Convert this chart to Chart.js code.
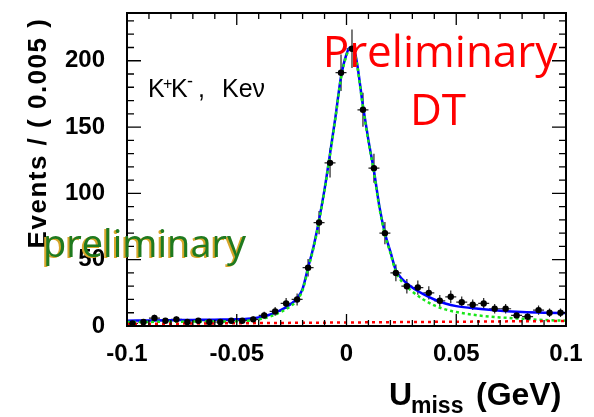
<!DOCTYPE html>
<html lang="en">
<head>
<meta charset="UTF-8">
<title>Umiss K+K- Kenu</title>
<script src="https://cdn.jsdelivr.net/npm/chart.js"></script>
<style>
    html, body { margin: 0; padding: 0; background: #fff; }
    #umissChart { display: block; }
</style>
</head>
<body>
<canvas id="umissChart" width="594" height="417"></canvas>
<script>
    // bin centres in GeV (bin width 0.005)
    const binCenters = [-0.0975, -0.0925, -0.0875, -0.0825, -0.0775, -0.0725, -0.0675, -0.0625, -0.0575, -0.0525,
                        -0.0475, -0.0425, -0.0375, -0.0325, -0.0275, -0.0225, -0.0175, -0.0125, -0.0075, -0.0025,
                         0.0025,  0.0075,  0.0125,  0.0175,  0.0225,  0.0275,  0.0325,  0.0375,  0.0425,  0.0475,
                         0.0525,  0.0575,  0.0625,  0.0675,  0.0725,  0.0775,  0.0825,  0.0875,  0.0925,  0.0975];
    const events = [2, 3, 6, 4, 5, 3, 4, 3, 3, 4,
                    4, 5, 8, 11, 17, 20, 44, 78, 123, 191,
                    209, 163, 119, 70, 40, 30, 29, 25, 19, 22,
                    18, 16, 17, 13, 13, 8, 7, 12, 10, 10];
    const eventErrors = [1.4, 1.7, 2.4, 2, 2.2, 1.7, 2, 1.7, 1.7, 2,
                         2, 2.2, 2.8, 3.3, 4.1, 4.5, 6.6, 8.8, 11.1, 13.8,
                         14.5, 12.8, 10.9, 8.4, 6.3, 5.5, 5.4, 5, 4.4, 4.7,
                         4.2, 4, 4.1, 3.6, 3.6, 2.8, 2.6, 3.5, 3.2, 3.2];

    // fit curves
    const fitX = [-0.1, -0.09, -0.08, -0.07, -0.06, -0.05, -0.045, -0.04, -0.035, -0.03,
                  -0.025, -0.0225, -0.02, -0.0175, -0.015, -0.0125, -0.01, -0.0075, -0.005, -0.0025,
                  0, 0.0016, 0.004, 0.0075, 0.01, 0.0125, 0.015, 0.0175, 0.02, 0.0225,
                  0.025, 0.03, 0.035, 0.04, 0.045, 0.05, 0.06, 0.07, 0.08, 0.09, 0.1];
    const fitTotal = [4, 4.2, 4.4, 4.6, 4.8, 5, 5.5, 6.5, 8.5, 12,
                      17, 21, 28, 44, 60, 80, 103, 130, 158, 188,
                      205, 210, 205, 166, 140, 117, 90, 70, 56, 42,
                      36, 29, 24, 20, 17, 15, 13, 11.5, 10.5, 10, 9.8];
    const fitSignal = [3, 3.1, 3.2, 3.3, 3.4, 3.6, 4, 5, 7, 10.5,
                       15.5, 19.5, 27, 43, 59, 79, 102, 129, 157, 187,
                       204, 209, 204, 165, 139, 116, 89, 69, 55, 41,
                       34, 26, 20, 15.5, 12.5, 10.5, 8, 6.5, 5.5, 4.5, 4];
    const bkgX = [-0.1, 0.1];
    const fitBkg = [1.5, 3.8];

    const xTicks = [-0.1, -0.05, 0, 0.05, 0.1];
    const yTicks = [0, 50, 100, 150, 200];

    const toPoints = (xs, ys) => xs.map((x, i) => ({ x: x, y: ys[i] }));

    // error bars under the curves
    const errorBars = {
        id: 'errorBars',
        beforeDatasetsDraw(chart) {
            const ctx = chart.ctx, xs = chart.scales.x, ys = chart.scales.y;
            ctx.save();
            ctx.strokeStyle = '#222';
            ctx.lineWidth = 1.2;
            binCenters.forEach((x, i) => {
                const px = xs.getPixelForValue(x);
                const py = ys.getPixelForValue(events[i]);
                ctx.beginPath();
                ctx.moveTo(px, ys.getPixelForValue(events[i] - eventErrors[i]));
                ctx.lineTo(px, ys.getPixelForValue(events[i] + eventErrors[i]));
                ctx.moveTo(xs.getPixelForValue(x - 0.0025), py);
                ctx.lineTo(xs.getPixelForValue(x + 0.0025), py);
                ctx.stroke();
            });
            ctx.restore();
        }
    };

    // ROOT style frame with inward ticks on all four sides
    const frame = {
        id: 'frame',
        afterDatasetsDraw(chart) {
            const ctx = chart.ctx, xs = chart.scales.x, ys = chart.scales.y;
            const { left, right, top, bottom } = chart.chartArea;
            ctx.save();
            ctx.strokeStyle = '#000';
            ctx.lineWidth = 1.3;
            ctx.beginPath();
            for (let k = -10; k <= 10; k++) {
                const px = xs.getPixelForValue(k / 100);
                const len = (k % 5 === 0) ? 12 : 6;
                ctx.moveTo(px, bottom); ctx.lineTo(px, bottom - len);
                ctx.moveTo(px, top); ctx.lineTo(px, top + len);
            }
            for (let v = 0; v <= 230; v += 10) {
                const py = ys.getPixelForValue(v);
                const len = (v % 50 === 0) ? 14 : 7;
                ctx.moveTo(left, py); ctx.lineTo(left + len, py);
                ctx.moveTo(right, py); ctx.lineTo(right - len, py);
            }
            ctx.stroke();
            ctx.lineWidth = 2;
            ctx.strokeRect(left, top, right - left, bottom - top);
            ctx.restore();
        }
    };

    const labels = {
        id: 'labels',
        afterDraw(chart) {
            const ctx = chart.ctx;
            ctx.save();
            ctx.fillStyle = '#000';
            ctx.textBaseline = 'alphabetic';

            // y title
            ctx.save();
            ctx.translate(46, 133);
            ctx.rotate(-Math.PI / 2);
            ctx.font = 'bold 26px "Liberation Sans"';
            ctx.letterSpacing = '1.5px';
            ctx.textAlign = 'center';
            ctx.fillText('Events / ( 0.005 )', 0, 0);
            ctx.restore();

            // x title
            ctx.textAlign = 'left';
            ctx.font = 'bold 32px "Liberation Sans"';
            ctx.fillText('U', 389, 405);
            ctx.font = 'bold 23px "Liberation Sans"';
            ctx.fillText('miss', 411, 413);
            ctx.font = 'bold 32px "Liberation Sans"';
            ctx.fillText('(GeV)', 476, 405);

            // channel label
            ctx.font = '25px "Liberation Sans"';
            ctx.fillText('K', 148, 97);
            ctx.font = '16px "Liberation Sans"';
            ctx.fillText('+', 163, 89);
            ctx.font = '25px "Liberation Sans"';
            ctx.fillText('K', 171, 97);
            ctx.font = '18px "Liberation Sans"';
            ctx.fillText('-', 187, 87);
            ctx.font = '25px "Liberation Sans"';
            ctx.fillText(',', 198, 97);
            ctx.fillText('Keν', 222, 97);

            // red stamp
            ctx.fillStyle = '#ff0000';
            ctx.font = '44px "Open Sans"';
            ctx.textAlign = 'center';
            ctx.fillText('Preliminary', 440, 67);
            ctx.fillText('DT', 438, 125);

            // green stamp with golden shadow
            ctx.textAlign = 'left';
            ctx.font = '38px "Open Sans"';
            ctx.fillStyle = '#d8a62a';
            ctx.fillText('preliminary', 41, 258);
            ctx.fillStyle = '#1f7a1f';
            ctx.fillText('preliminary', 43, 257);
            ctx.restore();
        }
    };

    const tickFont = { family: '"Liberation Sans", Arial, sans-serif', size: 24, weight: 'bold' };

    new Chart(document.getElementById('umissChart'), {
        type: 'scatter',
        data: {
            datasets: [
                {
                    label: 'Data',
                    data: toPoints(binCenters, events),
                    pointRadius: 3.2,
                    pointBackgroundColor: '#000',
                    pointBorderWidth: 0,
                    showLine: false,
                    order: 0
                },
                {
                    label: 'Background',
                    data: toPoints(bkgX, fitBkg),
                    showLine: true,
                    pointRadius: 0,
                    borderColor: '#ff0000',
                    borderWidth: 2.5,
                    borderDash: [3, 4],
                    order: 1
                },
                {
                    label: 'Signal',
                    data: toPoints(fitX, fitSignal),
                    showLine: true,
                    pointRadius: 0,
                    borderColor: '#19e619',
                    borderWidth: 2.5,
                    borderDash: [3, 3],
                    cubicInterpolationMode: 'monotone',
                    order: 2
                },
                {
                    label: 'Total fit',
                    data: toPoints(fitX, fitTotal),
                    showLine: true,
                    pointRadius: 0,
                    borderColor: '#0000ff',
                    borderWidth: 2.5,
                    cubicInterpolationMode: 'monotone',
                    order: 3
                }
            ]
        },
        options: {
            responsive: false,
            animation: false,
            devicePixelRatio: 1,
            layout: { padding: { left: 0, top: 13, right: 28, bottom: 0 } },
            plugins: {
                legend: { display: false },
                tooltip: { enabled: false }
            },
            scales: {
                x: {
                    type: 'linear',
                    min: -0.1,
                    max: 0.1,
                    grid: { display: false, drawTicks: false },
                    border: { display: false },
                    afterBuildTicks: s => { s.ticks = xTicks.map(v => ({ value: v })); },
                    afterFit: s => { s.height = 91; s.paddingLeft = 0; s.paddingRight = 0; },
                    ticks: {
                        color: '#000',
                        font: tickFont,
                        padding: 14,
                        maxRotation: 0,
                        autoSkip: false,
                        callback: v => (v === 0 ? '0' : String(v))
                    }
                },
                y: {
                    type: 'linear',
                    min: 0,
                    max: 236,
                    grid: { display: false, drawTicks: false },
                    border: { display: false },
                    afterBuildTicks: s => { s.ticks = yTicks.map(v => ({ value: v })); },
                    afterFit: s => { s.width = 127; s.paddingTop = 0; s.paddingBottom = 0; },
                    ticks: {
                        color: '#000',
                        font: tickFont,
                        padding: 22
                    }
                }
            }
        },
        plugins: [errorBars, frame, labels]
    });
</script>
</body>
</html>
